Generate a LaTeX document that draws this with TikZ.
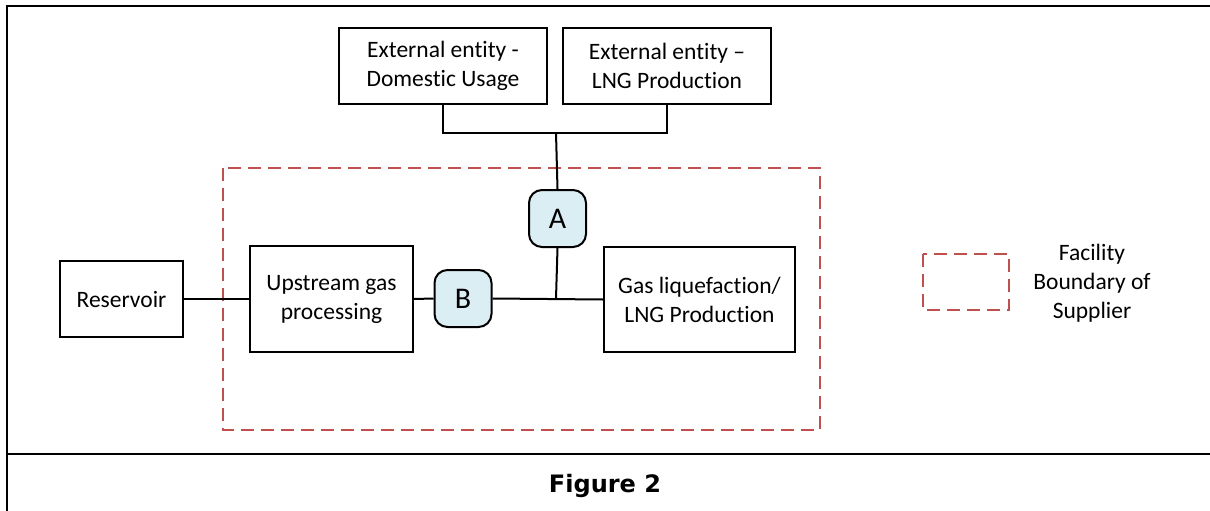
\documentclass[tikz,border=0pt]{standalone}
\usepackage{fontspec}
\setmainfont[Ligatures=CommonOff]{Carlito}
\newfontfamily\capfont{DejaVu Sans}
\definecolor{bndred}{HTML}{C0504D}
\definecolor{ptfill}{HTML}{DBEEF4}
\begin{document}
\begin{tikzpicture}[x=1pt,y=-1pt,
  box/.style={draw=black,line width=2pt,fill=white,align=center,inner sep=0pt,
    font=\fontsize{23.5}{29}\selectfont},
  pt/.style={draw=black,line width=2pt,fill=ptfill,rounded corners=13pt,inner sep=0pt,
    minimum width=57pt,minimum height=57pt,font=\fontsize{30}{34}\selectfont},
  conn/.style={line width=2pt,black},
  bnd/.style={draw=bndred,line width=2pt,dash pattern=on 13pt off 7pt},
  frame/.style={line width=2pt,black}]
\useasboundingbox (0,0) rectangle (1210,511);
% frame
\draw[frame] (7,511) -- (7,6) -- (1210,6);
\draw[frame] (7,454) -- (1210,454);
\node[font=\capfont\bfseries\fontsize{24}{28}\selectfont] (cap) at (605,486) {Figure 2};
% boundary
\draw[bnd] (223,168) rectangle (820,430);
% nodes
\node[box,minimum width=208pt,minimum height=76pt] (dom) at (443,66) {External entity -\\Domestic Usage};
\node[box,minimum width=208pt,minimum height=76pt] (ext) at (667,66) {External entity --\\LNG Production};
\node[box,minimum width=123pt,minimum height=76pt] (res) at (121.5,299) {Reservoir};
\node[box,minimum width=163pt,minimum height=106pt] (up) at (331.5,299) {Upstream gas\\processing};
\node[box,minimum width=191pt,minimum height=105pt] (gas) at (699.5,299.5) {Gas liquefaction/\\LNG Production};
\node[pt] (A) at (557.5,218.5) {A};
\node[pt] (B) at (463,298.5) {B};
\coordinate (J1) at (556,133);
\coordinate (J2) at (556,298.5);
% connectors
\draw[conn] (dom.south) |- (J1) -| (ext.south);
\draw[conn] (J1) -- (A.north);
\draw[conn] (A.south) -- (J2);
\draw[conn] (res.east) -- (up.west);
\draw[conn] (up.east) -- (B.west);
\draw[conn] (B.east) -- (gas.west);
% legend
\draw[bnd] (923,254) rectangle (1009,310);
\node[align=center,font=\fontsize{23.5}{29}\selectfont] (leg) at (1092,283) {Facility\\Boundary of\\Supplier};
\end{tikzpicture}
\end{document}
